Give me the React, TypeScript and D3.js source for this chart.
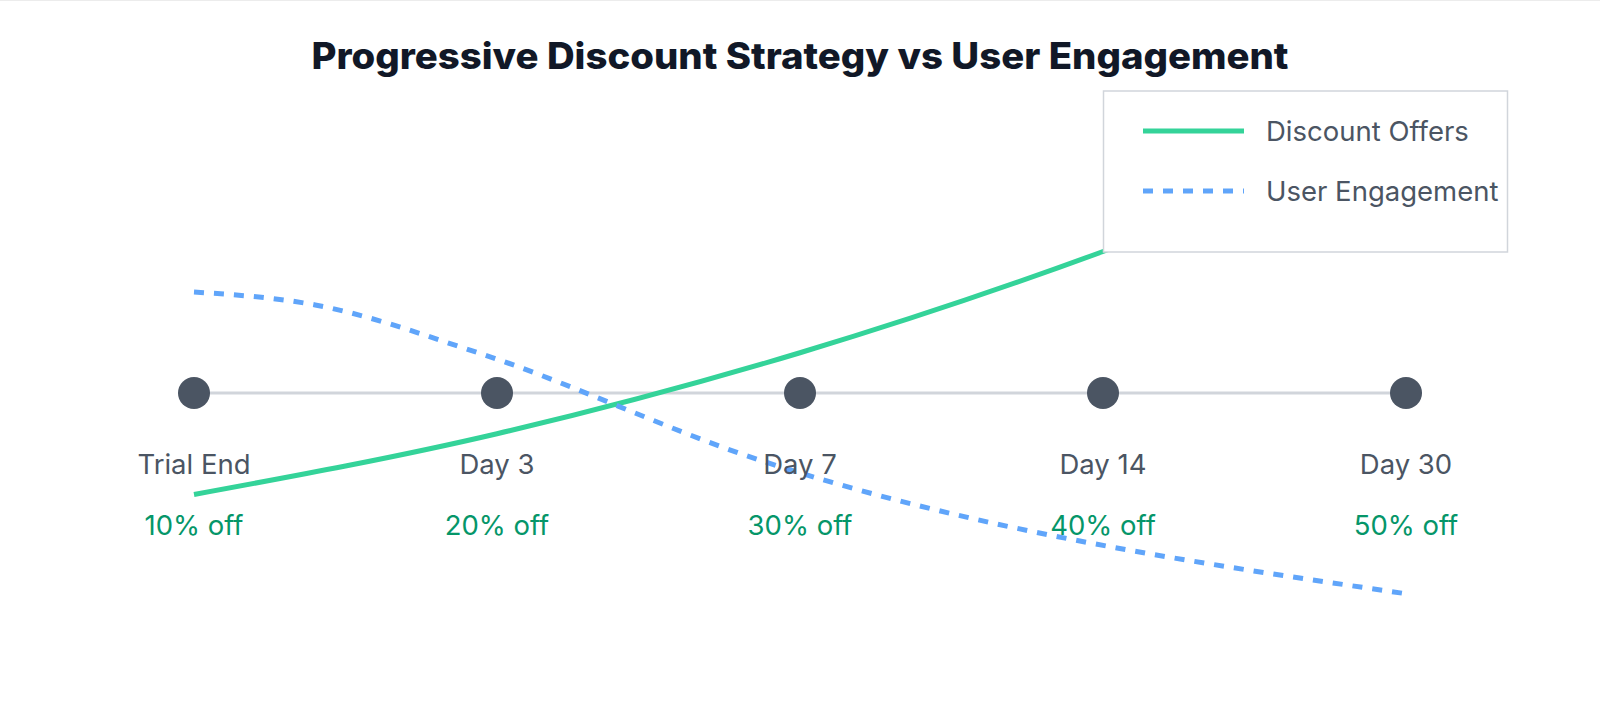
import React from "react";
import * as d3 from "d3";

const stages = ["Trial End", "Day 3", "Day 7", "Day 14", "Day 30"];
const stageDays = [0, 3, 7, 14, 30];
const discountLabels = ["10% off", "20% off", "30% off", "40% off", "50% off"];
const discountValues = [10, 25, 45, 70, 100];
const engagementValues = [100, 97, 86, 61, 30];
const legendItems = ["Discount Offers", "User Engagement"];

const W = 1600;
const H = 702;
const FONT = "Inter, 'Noto Sans', sans-serif";

export default function App() {
  const margin = { left: 194, right: 194 };
  const x = d3.scalePoint<string>().domain(stages).range([margin.left, W - margin.right]);
  const xDay = d3.scaleLinear().domain([0, 30]).range([margin.left, W - margin.right]);
  const yDiscount = d3.scaleLinear().domain([0, 100]).range([535, 130]);
  const yEngagement = d3.scaleLinear().domain([0, 100]).range([723, 292]);
  const timelineY = 393;

  const discountLine = d3
    .line<number>()
    .x((_, i) => x(stages[i]) as number)
    .y((d) => yDiscount(d))
    .curve(d3.curveMonotoneX);

  const engagementLine = d3
    .line<number>()
    .x((_, i) => xDay(stageDays[i]))
    .y((d) => yEngagement(d))
    .curve(d3.curveMonotoneX);

  const green = "#34d399";
  const blue = "#60a5fa";
  const dash = "10,10";
  const labelSize = 27.5;

  return (
    <div style={{ position: "absolute", left: 0, top: 0 }}>
      <svg width={W} height={H} style={{ display: "block", background: "#fff" }}>
        <rect x={0} y={0} width={W} height={1} fill="#ececec" />
        <text
          x={W / 2}
          y={69}
          textAnchor="middle"
          fontFamily={FONT}
          fontWeight={800}
          fontSize={37}
          fill="#111827"
          textLength={977}
          lengthAdjust="spacingAndGlyphs"
        >
          Progressive Discount Strategy vs User Engagement
        </text>

        <line
          x1={x(stages[0])}
          x2={x(stages[stages.length - 1])}
          y1={timelineY}
          y2={timelineY}
          stroke="#d1d5db"
          strokeWidth={3}
        />

        <path d={discountLine(discountValues) || ""} fill="none" stroke={green} strokeWidth={5} />
        <path
          d={engagementLine(engagementValues) || ""}
          fill="none"
          stroke={blue}
          strokeWidth={5}
          strokeDasharray={dash}
        />

        {stages.map((s, i) => (
          <g key={s}>
            <circle cx={x(s)} cy={timelineY} r={16} fill="#4b5563" />
            <text
              x={x(s)}
              y={474}
              textAnchor="middle"
              fontFamily={FONT}
              fontSize={labelSize}
              fill="#4b5563"
            >
              {s}
            </text>
            <text
              x={x(s)}
              y={535}
              textAnchor="middle"
              fontFamily={FONT}
              fontSize={labelSize}
              fill="#059669"
            >
              {discountLabels[i]}
            </text>
          </g>
        ))}

        <g>
          <rect x={1103.5} y={91} width={404} height={161} fill="#fff" stroke="#d1d5db" strokeWidth={1.5} />
          <line x1={1143} x2={1244} y1={131} y2={131} stroke={green} strokeWidth={5} />
          <text x={1266} y={141} fontFamily={FONT} fontSize={labelSize} fill="#4b5563">
            {legendItems[0]}
          </text>
          <line x1={1143} x2={1244} y1={191} y2={191} stroke={blue} strokeWidth={5} strokeDasharray={dash} />
          <text x={1266} y={201} fontFamily={FONT} fontSize={labelSize} fill="#4b5563">
            {legendItems[1]}
          </text>
        </g>
      </svg>
    </div>
  );
}
